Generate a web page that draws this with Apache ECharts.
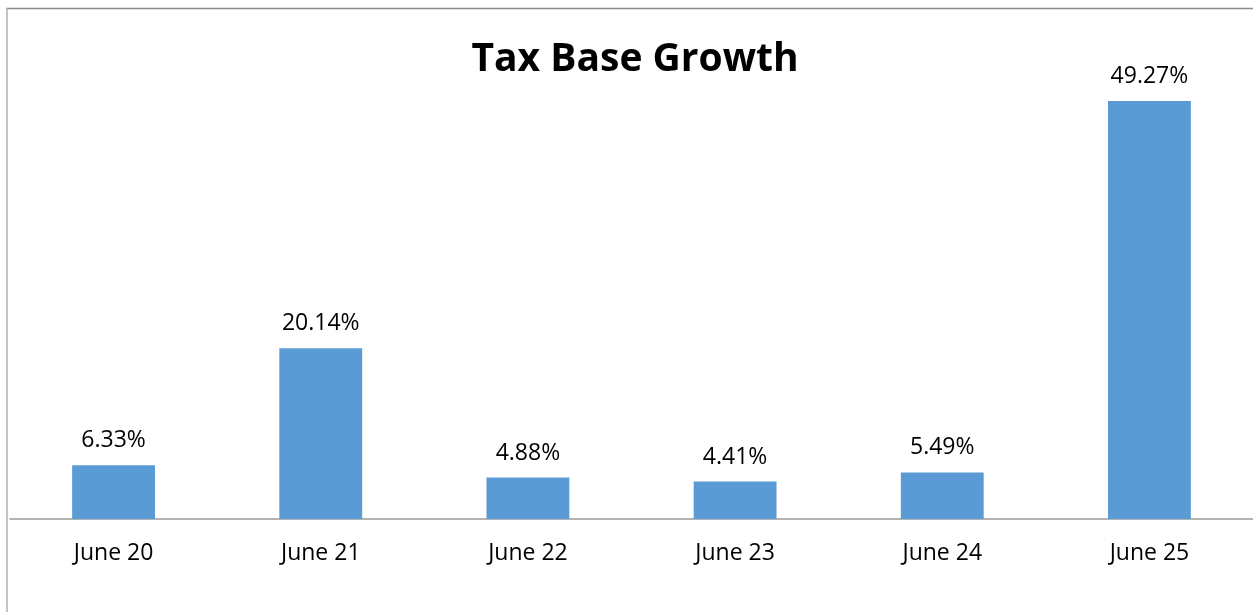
<!DOCTYPE html>
<html>
<head>
<meta charset="utf-8">
<script src="https://cdn.jsdelivr.net/npm/echarts@6/dist/echarts.min.js"></script>
<style>
  html, body { margin: 0; padding: 0; background: #fff; }
  #chart { width: 1253px; height: 612px; }
</style>
</head>
<body>
<div id="chart"></div>
<script>
// Year-over-year tax base growth, in percent
const categories = ['June 20', 'June 21', 'June 22', 'June 23', 'June 24', 'June 25'];
const growth = [6.33, 20.14, 4.88, 4.41, 5.49, 49.27];

const chart = echarts.init(document.getElementById('chart'));
const font = '"Open Sans", Lato, sans-serif';

chart.setOption({
  animation: false,
  backgroundColor: '#ffffff',
  title: {
    text: 'Tax Base Growth',
    left: 630,
    textAlign: 'center',
    top: 35,
    textStyle: { fontFamily: font, fontWeight: 'bold', fontSize: 39, color: '#000' }
  },
  graphic: [
    { type: 'line', shape: { x1: 6, y1: 8.5, x2: 1253, y2: 8.5 }, style: { stroke: '#8c8c8c', lineWidth: 1.5 } },
    { type: 'line', shape: { x1: 7, y1: 8, x2: 7, y2: 612 }, style: { stroke: '#b0b0b0', lineWidth: 1.5 } }
  ],
  grid: { left: 10, right: 0, top: 10, bottom: 93, containLabel: false },
  xAxis: {
    type: 'category',
    data: categories,
    axisLine: { lineStyle: { color: '#9a9a9a', width: 1.5 } },
    axisTick: { show: false },
    axisLabel: { margin: 23, fontFamily: font, fontSize: 23, color: '#000' }
  },
  yAxis: {
    type: 'value',
    min: 0,
    max: 60,
    show: false,
    splitLine: { show: false }
  },
  series: [{
    type: 'bar',
    data: growth,
    barWidth: '40%',
    itemStyle: { color: '#5b9bd5' },
    label: {
      show: true,
      position: 'top',
      distance: 13,
      fontFamily: font,
      fontSize: 23,
      color: '#000',
      formatter: p => p.value.toFixed(2) + '%'
    }
  }]
});
</script>
</body>
</html>
